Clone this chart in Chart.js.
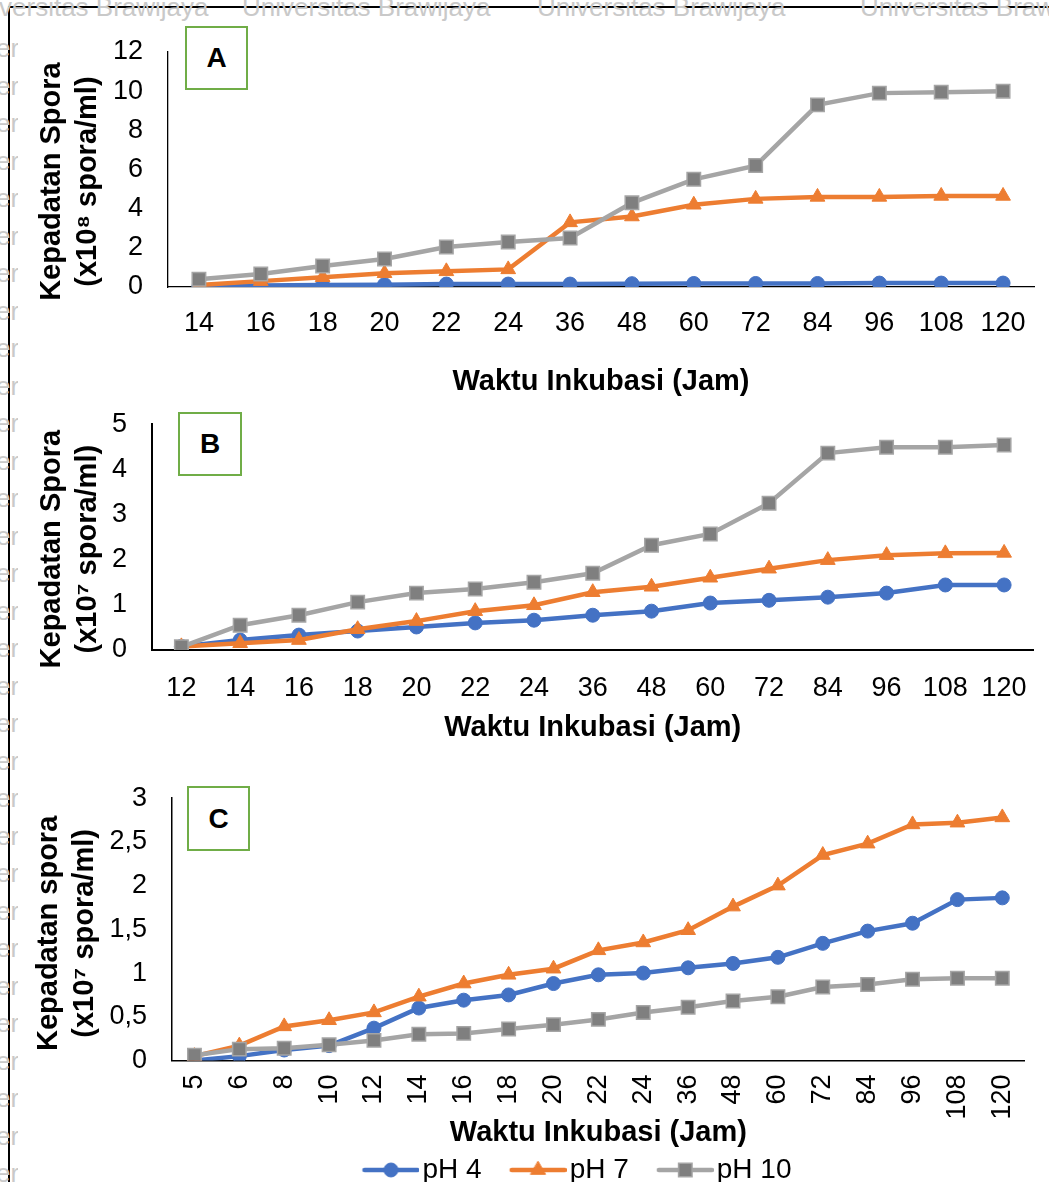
<!DOCTYPE html>
<html>
<head>
<meta charset="utf-8">
<script src="https://cdn.jsdelivr.net/npm/chart.js@4.4.1/dist/chart.umd.min.js"></script>
<style>
  html, body { margin: 0; padding: 0; background: #fff; width: 1049px; height: 1182px; overflow: hidden; position: relative; font-family: "Liberation Sans", Arial, sans-serif; }
  canvas { position: absolute; left: 0; }
  #chartA { top: 0; }
  #chartB { top: 383px; }
  #chartC { top: 757px; }
  .wm { position: absolute; color: #c9c9c9; font-size: 26px; white-space: pre; line-height: 1; }
  .wmLeft { position: absolute; left: 0; top: 0; width: 18px; height: 1182px; overflow: hidden; }
  .frameTop { position: absolute; left: 8px; top: 6px; width: 1041px; height: 2px; background: #000; }
  .frameLeft { position: absolute; left: 8px; top: 6px; width: 2px; height: 1176px; background: #000; }
  .panel { position: absolute; box-sizing: border-box; border: 2px solid #70AD47; background: #fff; font-weight: bold; font-size: 28px; display: flex; align-items: center; justify-content: center; z-index: 5; }
</style>
</head>
<body>
<div class="frameTop"></div>
<div class="frameLeft"></div>
<div class="wm" style="left:-40px;top:-6px">Universitas Brawijaya</div>
<div class="wm" style="left:242px;top:-6px">Universitas Brawijaya</div>
<div class="wm" style="left:537px;top:-6px">Universitas Brawijaya</div>
<div class="wm" style="left:860px;top:-6px">Universitas Brawijaya</div>
<div class="wmLeft" id="wmLeft"></div>

<canvas id="chartA" width="1049" height="399"></canvas>
<canvas id="chartB" width="1049" height="362"></canvas>
<canvas id="chartC" width="1049" height="437"></canvas>

<div class="panel" style="left:185px;top:26px;width:63px;height:64px">A</div>
<div class="panel" style="left:178px;top:412px;width:64px;height:64px">B</div>
<div class="panel" style="left:187px;top:786px;width:63px;height:65px">C</div>

<script>
// panel A: x10^8 spora/ml
const catA = ["14", "16", "18", "20", "22", "24", "36", "48", "60", "72", "84", "96", "108", "120"];
const ph4A = [0.02, 0.08, 0.1, 0.12, 0.15, 0.15, 0.15, 0.17, 0.18, 0.18, 0.18, 0.2, 0.2, 0.2];
const ph7A = [0.1, 0.3, 0.5, 0.7, 0.8, 0.9, 3.3, 3.6, 4.2, 4.5, 4.6, 4.6, 4.65, 4.65];
const ph10A = [0.4, 0.66, 1.07, 1.43, 2.04, 2.3, 2.5, 4.3, 5.5, 6.2, 9.3, 9.9, 9.95, 10.0];

// panel B: x10^7 spora/ml
const catB = ["12", "14", "16", "18", "20", "22", "24", "36", "48", "60", "72", "84", "96", "108", "120"];
const ph4B = [0.08, 0.22, 0.33, 0.42, 0.51, 0.6, 0.66, 0.77, 0.86, 1.04, 1.1, 1.17, 1.26, 1.44, 1.44];
const ph7B = [0.08, 0.15, 0.22, 0.46, 0.64, 0.86, 0.99, 1.28, 1.4, 1.6, 1.8, 1.99, 2.1, 2.14, 2.15];
const ph10B = [0.07, 0.55, 0.77, 1.06, 1.26, 1.35, 1.5, 1.7, 2.32, 2.57, 3.25, 4.36, 4.49, 4.49, 4.54];

// panel C: x10^7 spora/ml
const catC = ["5", "6", "8", "10", "12", "14", "16", "18", "20", "22", "24", "36", "48", "60", "72", "84", "96", "108", "120"];
const ph4C = [0, 0.05, 0.12, 0.17, 0.37, 0.6, 0.69, 0.75, 0.88, 0.98, 1.0, 1.06, 1.11, 1.18, 1.34, 1.48, 1.57, 1.84, 1.86];
const ph7C = [0.05, 0.17, 0.39, 0.46, 0.55, 0.73, 0.88, 0.98, 1.05, 1.26, 1.35, 1.49, 1.76, 2.0, 2.35, 2.48, 2.7, 2.72, 2.78];
const ph10C = [0.06, 0.13, 0.14, 0.18, 0.23, 0.3, 0.31, 0.36, 0.41, 0.47, 0.55, 0.61, 0.68, 0.73, 0.84, 0.87, 0.93, 0.94, 0.94];

const seriesNames = ["pH 4", "pH 7", "pH 10"];
const xTitle = "Waktu Inkubasi (Jam)";

Chart.defaults.font.family = "'Liberation Sans', Arial, sans-serif";
Chart.defaults.color = "#000";

const styles = [
  { line: "#4472C4", fill: "#4472C4", border: "#4472C4", point: "circle", radius: 7, bw: 1, order: 3 },
  { line: "#ED7D31", fill: "#ED7D31", border: "#ED7D31", point: "triangle", radius: 8.5, bw: 1, order: 2 },
  { line: "#A5A5A5", fill: "#7F7F7F", border: "#A5A5A5", point: "rect", radius: 9.5, bw: 1.5, order: 1 },
];

// watermark fragments on the left edge
const wmLeft = document.getElementById("wmLeft");
for (let y = 47; y < 1182; y += 37.5) {
  const s = document.createElement("div");
  s.className = "wm";
  s.style.left = "-4px";
  s.style.top = (y - 12) + "px";
  s.textContent = "ersitas";
  wmLeft.appendChild(s);
}

// legend icon: a line with the marker in the middle
function legendIcon(st) {
  const c = document.createElement("canvas");
  c.width = 90;
  c.height = 22;
  const g = c.getContext("2d");
  g.strokeStyle = st.line;
  g.lineWidth = 4.5;
  g.lineCap = "round";
  g.beginPath();
  g.moveTo(35, 11);
  g.lineTo(88, 11);
  g.stroke();
  const cx = 61.5, cy = 11;
  g.fillStyle = st.fill;
  g.strokeStyle = st.border;
  g.lineWidth = st.bw;
  g.beginPath();
  if (st.point === "circle") {
    g.arc(cx, cy, 7, 0, Math.PI * 2);
  } else if (st.point === "triangle") {
    g.moveTo(cx, cy - 8.5);
    g.lineTo(cx + 7.4, cy + 4.3);
    g.lineTo(cx - 7.4, cy + 4.3);
    g.closePath();
  } else {
    g.rect(cx - 6.7, cy - 6.7, 13.4, 13.4);
  }
  g.fill();
  g.stroke();
  return c;
}

function buildDatasets(values) {
  return values.map((v, i) => ({
    label: seriesNames[i],
    data: v,
    borderColor: styles[i].line,
    backgroundColor: styles[i].fill,
    borderWidth: 4.5,
    pointStyle: styles[i].point,
    pointRadius: styles[i].radius,
    pointBackgroundColor: styles[i].fill,
    pointBorderColor: styles[i].border,
    pointBorderWidth: styles[i].bw,
    order: styles[i].order,
    tension: 0,
  }));
}

function createChart(id, cfg) {
  const ctx = document.getElementById(id).getContext("2d");
  return new Chart(ctx, {
    type: "line",
    data: { labels: cfg.labels, datasets: buildDatasets(cfg.values) },
    options: {
      responsive: false,
      animation: false,
      layout: { padding: cfg.padding },
      scales: {
        x: {
          type: "category",
          offset: true,
          grid: { display: false, drawTicks: false },
          border: { display: true, color: "#000", width: cfg.axisWidth },
          afterFit: (s) => { s.height = cfg.xHeight; },
          ticks: {
            autoSkip: false,
            padding: cfg.xTickPad,
            minRotation: cfg.rotate ? 90 : 0,
            maxRotation: cfg.rotate ? 90 : 0,
            font: { size: 27 },
          },
          title: {
            display: true,
            text: xTitle,
            font: { size: 29, weight: "bold", lineHeight: 1.2 },
            padding: 0,
          },
        },
        y: {
          min: 0,
          max: cfg.yMax,
          grid: { display: false, drawTicks: false },
          border: { display: true, color: "#000", width: cfg.axisWidth },
          afterFit: (s) => { s.width = cfg.yWidth; },
          ticks: {
            stepSize: cfg.yStep,
            padding: 25,
            font: { size: 27 },
            callback: (v) => String(v).replace(".", ","),
          },
          title: {
            display: true,
            text: cfg.yTitle,
            font: { size: 29, weight: "bold", lineHeight: 1.25 },
            padding: { top: cfg.yTitleShift, bottom: 0 },
          },
        },
      },
      plugins: {
        tooltip: { enabled: false },
        legend: cfg.legend ? {
          display: true,
          position: "bottom",
          labels: {
            usePointStyle: true,
            pointStyleWidth: 68,
            boxHeight: 22,
            padding: 6,
            font: { size: 28 },
            sort: (a, b) => a.datasetIndex - b.datasetIndex,
            generateLabels: (chart) => {
              const items = Chart.defaults.plugins.legend.labels.generateLabels(chart);
              items.forEach((it) => { it.pointStyle = legendIcon(styles[it.datasetIndex]); });
              return items;
            },
          },
        } : { display: false },
      },
    },
  });
}

createChart("chartA", {
  labels: catA, values: [ph4A, ph7A, ph10A],
  padding: { top: 52, left: 34, right: 15, bottom: 0 },
  yWidth: 134, yTitleShift: 0, yMax: 12, yStep: 2,
  yTitle: ["Kepadatan Spora   ", "(x10\u2078 spora/ml)   "],
  xHeight: 112, xTickPad: 20, axisWidth: 1.3, rotate: false, legend: false,
});

createChart("chartB", {
  labels: catB, values: [ph4B, ph7B, ph10B],
  padding: { top: 0, left: 34, right: 11, bottom: 0 },
  yWidth: 118, yTitleShift: 0, yMax: 5, yStep: 1,
  yTitle: ["Kepadatan Spora   ", "(x10\u2077 spora/ml)   "],
  xHeight: 95, xTickPad: 22, axisWidth: 2, rotate: false, legend: false,
});

createChart("chartC", {
  labels: catC, values: [ph4C, ph7C, ph10C],
  padding: { top: 0, left: 83, right: 0, bottom: 0 },
  yWidth: 89, yTitleShift: -52, yMax: 3, yStep: 0.5,
  yTitle: ["Kepadatan spora ", "(x10\u2077 spora/ml) "],
  xHeight: 89.5, xTickPad: 14, axisWidth: 1.5, rotate: true, legend: true,
});
</script>
</body>
</html>
